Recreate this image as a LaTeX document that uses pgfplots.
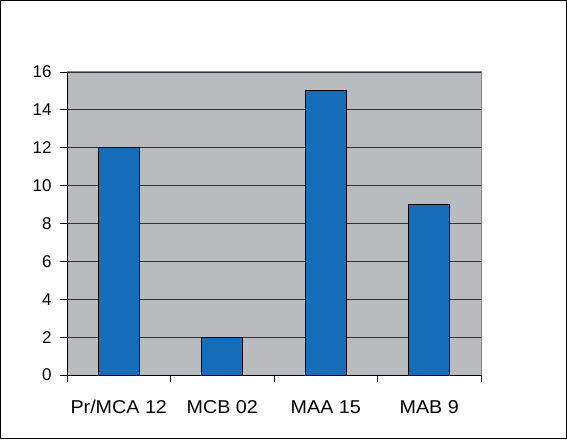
\documentclass[border=0pt]{standalone}
\usepackage{pgfplots}
\pgfplotsset{compat=1.18}
\usepackage{fontspec}
\setmainfont{Liberation Sans}
\newfontfamily\xfont[FakeStretch=1.06]{Liberation Sans}
\definecolor{barblue}{HTML}{166EBA}
\definecolor{plotgray}{HTML}{B9BCBF}
\definecolor{bordergray}{HTML}{7F8487}
\begin{document}
\begin{tikzpicture}[x=1pt,y=1pt]
\useasboundingbox (0,0) rectangle (567,439);
\draw[black,line width=1pt] (0.5,0.5) rectangle (566.5,438.5);
\begin{axis}[
  at={(67pt,64pt)}, anchor=south west,
  scale only axis, width=414pt, height=303pt,
  xmin=-0.5, xmax=3.5, ymin=0, ymax=16,
  axis lines=left, axis line style={-, black, line width=0.8pt},
  axis background/.style={fill=plotgray, draw=bordergray, line width=1pt},
  ytick={0,2,...,16},
  xtick={-0.5,0.5,1.5,2.5,3.5},
  x tick label as interval,
  xticklabels={Pr/MCA 12, MCB 02, MAA 15, MAB 9},
  tick align=outside,
  major tick length=7pt,
  tick style={black, line width=0.8pt},
  ymajorgrids, grid style={black!80, line width=0.9pt},
  yticklabel style={font=\fontsize{17}{19}\selectfont, anchor=east, xshift=-5pt},
  xticklabel style={font=\xfont\fontsize{18.6}{20}\selectfont, anchor=base, yshift=-31pt},
  /pgf/number format/assume math mode=true,
  clip=false,
]
\addplot[ybar, bar width=41pt, fill=barblue, draw=black, line width=0.9pt]
  coordinates {(0,12) (1,2) (2,15) (3,9)};
\end{axis}
\end{tikzpicture}
\end{document}
